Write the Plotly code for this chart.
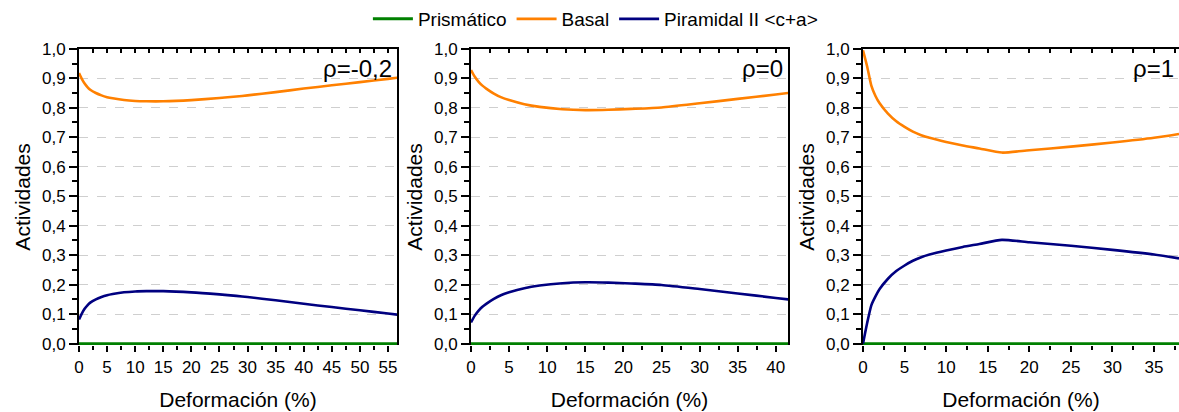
import plotly.graph_objects as go

# ---------------- data ----------------
x_p1 = [0, 0.5, 1, 1.5, 2, 3, 4, 5, 6, 8, 10, 12, 15, 20, 25, 28, 30, 35, 40, 45, 50, 55, 58]
basal_p1 = [0.918, 0.898, 0.882, 0.870, 0.861, 0.850, 0.842, 0.836, 0.832, 0.826, 0.823, 0.822,
            0.822, 0.826, 0.833, 0.838, 0.842, 0.853, 0.865, 0.876, 0.887, 0.898, 0.905]
pyr_p1 = [0.082, 0.102, 0.118, 0.130, 0.139, 0.150, 0.158, 0.164, 0.168, 0.174, 0.177, 0.178,
          0.178, 0.174, 0.167, 0.162, 0.158, 0.147, 0.135, 0.124, 0.113, 0.102, 0.095]
prism_p1 = [0.0] * len(x_p1)

x_p2 = [0, 0.5, 1, 1.5, 2, 3, 4, 5, 7, 9, 12, 15, 18, 21, 25, 30, 35, 40, 42]
basal_p2 = [0.928, 0.905, 0.888, 0.875, 0.865, 0.848, 0.835, 0.826, 0.812, 0.803, 0.795, 0.792,
            0.793, 0.796, 0.801, 0.815, 0.830, 0.845, 0.851]
pyr_p2 = [0.072, 0.095, 0.112, 0.125, 0.135, 0.152, 0.165, 0.174, 0.188, 0.197, 0.205, 0.208,
          0.207, 0.204, 0.199, 0.185, 0.170, 0.155, 0.149]
prism_p2 = [0.0] * len(x_p2)

x_p3 = [0, 0.5, 1, 1.5, 2, 3, 4, 5, 6, 7, 8, 10, 12, 14, 16.7, 20, 25, 30, 35, 38]
basal_p3 = [0.995, 0.94, 0.875, 0.84, 0.815, 0.78, 0.754, 0.735, 0.719, 0.707, 0.698, 0.684,
            0.672, 0.662, 0.648, 0.656, 0.668, 0.682, 0.698, 0.711]
pyr_p3 = [0.0, 0.07, 0.13, 0.16, 0.185, 0.22, 0.246, 0.265, 0.281, 0.293, 0.302, 0.316,
          0.328, 0.338, 0.352, 0.344, 0.332, 0.318, 0.302, 0.289]
prism_p3 = [0.0] * len(x_p3)

rho_labels = ["ρ=-0,2", "ρ=0", "ρ=1"]
x_max = [56.6, 41.6, 38.0]
series_names = ["Prismático", "Basal", "Piramidal II &lt;c+a&gt;"]
colors = ["#008000", "#FF8000", "#000080"]

panels = [
    (x_p1, prism_p1, basal_p1, pyr_p1),
    (x_p2, prism_p2, basal_p2, pyr_p2),
    (x_p3, prism_p3, basal_p3, pyr_p3),
]

# ---------------- figure ----------------
W, H = 1179, 412
x_domains = [[79 / W, 397 / W], [471 / W, 788 / W], [863 / W, 1.0]]
Y0 = -0.005  # small offset so the zero-level line is not clipped
px_per_unit = 296.3
y_domain = [(H - 343.3 - (-Y0) * px_per_unit) / H, (H - 47) / H]

FONT = "Liberation Sans, Arial, sans-serif"
fig = go.Figure()

for i, (xs, prism, basal, pyr) in enumerate(panels):
    xa = "x" if i == 0 else f"x{i + 1}"
    ya = "y" if i == 0 else f"y{i + 1}"
    for name, ys, col in zip(series_names, [prism, basal, pyr], colors):
        fig.add_trace(go.Scatter(
            x=xs, y=ys, mode="lines", name=name,
            line=dict(color=col, width=(3 if col == "#008000" else 2.6), shape="spline", smoothing=0.6),
            xaxis=xa, yaxis=ya, showlegend=(i == 0),
        ))
    # helper trace for top mirror axis
    fig.add_trace(go.Scatter(x=[], y=[], xaxis=f"x{i + 4}", yaxis=ya, showlegend=False))

layout = dict(
    width=W, height=H,
    margin=dict(l=0, r=0, t=0, b=0),
    paper_bgcolor="white", plot_bgcolor="white",
    separators=",.",
    font=dict(family=FONT, color="black"),
    legend=dict(orientation="h", x=0.505, xanchor="center", y=(H - 17) / H, yanchor="middle",
                font=dict(size=19, family=FONT, color="black"),
                bgcolor="rgba(0,0,0,0)", itemwidth=40, tracegroupgap=0),
    annotations=[],
)

for i in range(3):
    sfx = "" if i == 0 else str(i + 1)
    ysfx = "" if i == 0 else str(i + 1)
    layout[f"xaxis{sfx}"] = dict(
        domain=x_domains[i], range=[0, x_max[i]], anchor=f"y{ysfx}",
        tickmode="linear", tick0=0, dtick=5,
        ticks="outside", ticklen=6, tickwidth=2, tickcolor="black",
        minor=dict(dtick=2.5, ticks="outside", ticklen=4, tickwidth=1.5, tickcolor="black", showgrid=False),
        showline=False,
        showgrid=False, zeroline=False,
        tickfont=dict(size=17, family=FONT, color="black"),
        title=dict(text="Deformación (%)", font=dict(size=21, family=FONT, color="black"), standoff=16),
        automargin=False,
    )
    layout[f"yaxis{ysfx}"] = dict(
        domain=y_domain, range=[Y0, 1], anchor=f"x{sfx}",
        tickmode="linear", tick0=0, dtick=0.1, tickformat=".1f",
        ticks="outside", ticklen=8, tickwidth=2, tickcolor="black",
        minor=dict(tick0=0, dtick=0.05, ticks="outside", ticklen=5, tickwidth=1.5, tickcolor="black", showgrid=False),
        showline=True, linecolor="black", linewidth=2, mirror=True,
        showgrid=True, gridcolor="#cfcfcf", griddash="dash", gridwidth=1,
        zeroline=False, layer="below traces",
        tickfont=dict(size=17, family=FONT, color="black"),
        title=dict(text="Actividades", font=dict(size=21, family=FONT, color="black"), standoff=6),
        automargin=False,
    )
    layout[f"xaxis{i + 4}"] = dict(
        overlaying=f"x{sfx}", side="top", anchor=f"y{ysfx}", range=[0, x_max[i]],
        tickmode="linear", tick0=0, dtick=5,
        ticks="inside", ticklen=4, tickwidth=1.5, tickcolor="black",
        minor=dict(dtick=2.5, ticks="inside", ticklen=4, tickwidth=1.5, tickcolor="black"),
        showticklabels=False, showline=True, linecolor="black", linewidth=2,
        showgrid=False, zeroline=False,
    )
    layout["annotations"].append(dict(
        text=rho_labels[i], xref=f"x{sfx} domain", yref=f"y{ysfx} domain",
        x=1, y=(343.3 - 67) / 296.3, xanchor="right", yanchor="middle", xshift=-3,
        showarrow=False, font=dict(size=24, family=FONT, color="black"),
    ))

fig.update_layout(**layout)
fig.write_html("out.html")
